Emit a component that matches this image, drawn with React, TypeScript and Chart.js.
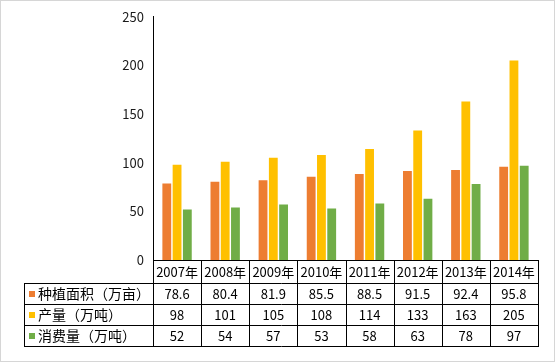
import React, { useEffect, useRef } from "react";
import { Chart, registerables } from "chart.js";

Chart.register(...registerables);

const years = ["2007年", "2008年", "2009年", "2010年", "2011年", "2012年", "2013年", "2014年"];
const seriesNames = ["种植面积（万亩）", "产量（万吨）", "消费量（万吨）"];
const plantingArea = [78.6, 80.4, 81.9, 85.5, 88.5, 91.5, 92.4, 95.8];
const production = [98, 101, 105, 108, 114, 133, 163, 205];
const consumption = [52, 54, 57, 53, 58, 63, 78, 97];
const seriesColors = ["#ED7D31", "#FFC000", "#70AD47"];
const yMin = 0;
const yMax = 250;
const yStep = 50;

const FONT = '"Noto Sans CJK SC", "Noto Sans", sans-serif';

const tablePlugin = {
  id: "dataTable",
  beforeDraw(chart: any) {
    const ctx = chart.ctx;
    ctx.save();
    ctx.fillStyle = "#ffffff";
    ctx.fillRect(0, 0, chart.width, chart.height);
    ctx.strokeStyle = "#d6d6d6";
    ctx.lineWidth = 1;
    ctx.strokeRect(0.5, 0.5, chart.width - 1, chart.height - 1);
    ctx.restore();
  },
  afterDraw(chart: any) {
    const ctx = chart.ctx;
    const xs = chart.scales.x;
    const area = chart.chartArea;
    const n = years.length;
    const half = n > 1 ? (xs.getPixelForValue(1) - xs.getPixelForValue(0)) / 2 : (area.right - area.left) / 2;
    const top = area.bottom;
    const headerH = 23;
    const rowH = 21;
    const tableLeft = 24;
    const colLeft = area.left;
    const colRight = xs.getPixelForValue(n - 1) + half;
    const rows = [plantingArea, production, consumption];
    const bottom = top + headerH + rowH * rows.length;
    const a = (v: number) => Math.round(v) + 0.5;

    ctx.save();
    ctx.strokeStyle = "#000000";
    ctx.lineWidth = 1;
    ctx.beginPath();
    // top line (x axis)
    ctx.moveTo(colLeft, a(top));
    ctx.lineTo(colRight + 1, a(top));
    // row lines
    for (let r = 0; r <= rows.length; r++) {
      const y = a(top + headerH + r * rowH);
      ctx.moveTo(tableLeft, y);
      ctx.lineTo(colRight + 1, y);
    }
    // left border of label column
    ctx.moveTo(a(tableLeft), top + headerH);
    ctx.lineTo(a(tableLeft), bottom + 1);
    // vertical column lines
    for (let i = 0; i <= n; i++) {
      const x = i === 0 ? a(colLeft) : a(xs.getPixelForValue(i - 1) + half);
      ctx.moveTo(x, top);
      ctx.lineTo(x, bottom + 1);
    }
    ctx.stroke();

    ctx.fillStyle = "#000000";
    ctx.textBaseline = "middle";
    ctx.textAlign = "center";
    ctx.font = `13px ${FONT}`;
    for (let i = 0; i < n; i++) {
      const cx = xs.getPixelForValue(i);
      ctx.fillText(years[i], cx, top + headerH / 2 + 0.5);
      for (let r = 0; r < rows.length; r++) {
        ctx.fillText(String(rows[r][i]), cx, top + headerH + r * rowH + rowH / 2 + 0.5);
      }
    }
    ctx.textAlign = "left";
    for (let r = 0; r < rows.length; r++) {
      const cy = top + headerH + r * rowH + rowH / 2;
      ctx.fillStyle = seriesColors[r];
      ctx.fillRect(tableLeft + 5, Math.round(cy - 3), 6, 6);
      ctx.fillStyle = "#000000";
      ctx.font = `14px ${FONT}`;
      ctx.fillText(seriesNames[r], tableLeft + 14, cy + 0.5);
    }
    ctx.restore();
  },
};

export default function App() {
  const ref = useRef<HTMLCanvasElement | null>(null);

  useEffect(() => {
    if (!ref.current) return;
    const datasets = [plantingArea, production, consumption].map((d, i) => ({
      label: seriesNames[i],
      data: d,
      backgroundColor: seriesColors[i],
      borderWidth: 0,
      categoryPercentage: 0.64,
      barPercentage: 0.86,
    }));
    const chart = new Chart(ref.current, {
      type: "bar",
      data: { labels: years, datasets },
      options: {
        responsive: false,
        animation: false,
        devicePixelRatio: 1,
        layout: { padding: { top: 16, right: 17, bottom: 0, left: 0 } },
        plugins: { legend: { display: false }, tooltip: { enabled: false } },
        scales: {
          x: {
            grid: { display: false },
            border: { display: false },
            ticks: { display: false },
            afterFit: (s: any) => {
              s.height = 102;
            },
          },
          y: {
            min: yMin,
            max: yMax,
            grid: { display: false, drawTicks: false },
            border: { display: true, color: "#000000", width: 1 },
            ticks: {
              stepSize: yStep,
              padding: 9,
              color: "#1a1a1a",
              font: { family: FONT, size: 13 },
            },
            afterFit: (s: any) => {
              s.width = 153;
            },
          },
        },
      },
      plugins: [tablePlugin],
    });
    return () => chart.destroy();
  }, []);

  return (
    <div style={{ position: "absolute", left: 0, top: 0, width: 555, height: 362 }}>
      <canvas ref={ref} width={555} height={362} style={{ width: 555, height: 362, display: "block" }} />
    </div>
  );
}
